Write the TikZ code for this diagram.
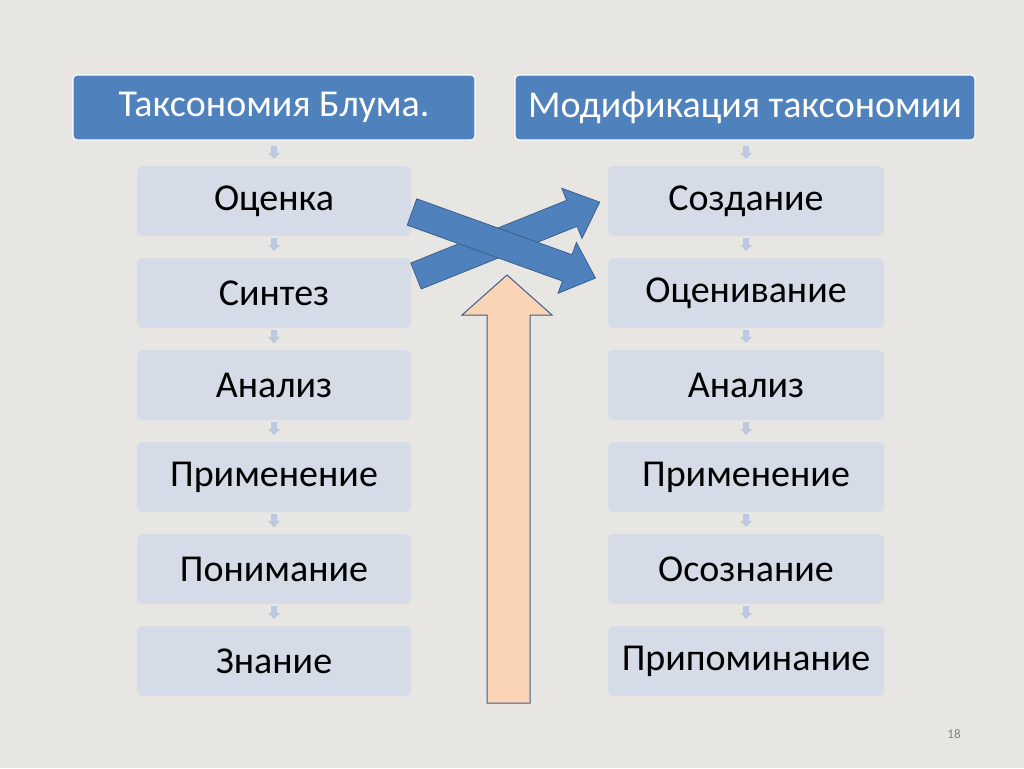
\documentclass[tikz,border=0pt]{standalone}
\usepackage{fontspec}
\setmainfont{Carlito}
\begin{document}
\begin{tikzpicture}[x=1pt,y=-1pt,
  hdr/.style={draw=white,line width=1.2pt,fill=hblue,rounded corners=4pt,minimum width=#1,minimum height=65pt,text=white,font=\fontsize{38}{40}\selectfont,inner sep=0pt},
  bx/.style={fill=boxc,rounded corners=6pt,minimum width=#1,minimum height=70pt,font=\fontsize{38}{40}\selectfont,inner sep=0pt},
  sm/.style={fill=boxc!80!hblue}]
\definecolor{hblue}{HTML}{4F81BD}
\definecolor{boxc}{HTML}{D5DBE7}
\definecolor{bg}{HTML}{E8E6E3}
\definecolor{peach}{HTML}{FBD3B5}
\definecolor{edge}{HTML}{3B5F8D}
\fill[bg] (0,0) rectangle (1024,768);
\node[hdr=402pt] (h1) at (274,107.5) {Таксономия Блума.};
\node[hdr=460pt] (h2) at (745,107.5) {Модификация таксономии};
\foreach \i/\a/\b in {1/Оценка/Создание,2/Синтез/Оценивание,3/Анализ/Анализ,4/Применение/Применение,5/Понимание/Осознание,6/Знание/Припоминание}{
  \node[bx=274pt] (l\i) at (274,{201+92*(\i-1)}) {\a};
  \node[bx=276pt] (r\i) at (746,{201+92*(\i-1)}) {\b};
}
\foreach \y in {150,242,334,426,518,610}{
  \foreach \x in {274,746}{
    \fill[sm] (\x-3,\y-4) rectangle (\x+3,\y+3) (\x-6,\y+3) -- (\x+6,\y+3) -- (\x,\y+9) -- cycle;
  }
}
% peach arrow
\draw[fill=peach,draw=edge,line width=1pt] (487,703) -- (487,315) -- (462,315) -- (507,275) -- (552,315) -- (530,315) -- (530,703) -- cycle;
% crossing arrows
\begin{scope}[shift={(416,276)},rotate=21.9]
\draw[fill=hblue,draw=edge,line width=0.8pt] (0,-14) -- (168,-14) -- (168,-27) -- (198,0) -- (168,27) -- (168,14) -- (0,14) -- cycle;
\end{scope}
\begin{scope}[shift={(412,212)},rotate=-19.8]
\draw[fill=hblue,draw=edge,line width=0.8pt] (0,-14) -- (165,-14) -- (165,-27) -- (195,0) -- (165,27) -- (165,14) -- (0,14) -- cycle;
\end{scope}
\node[text=gray,font=\fontsize{13}{14}\selectfont] (pg) at (954,734) {18};
\end{tikzpicture}
\end{document}
